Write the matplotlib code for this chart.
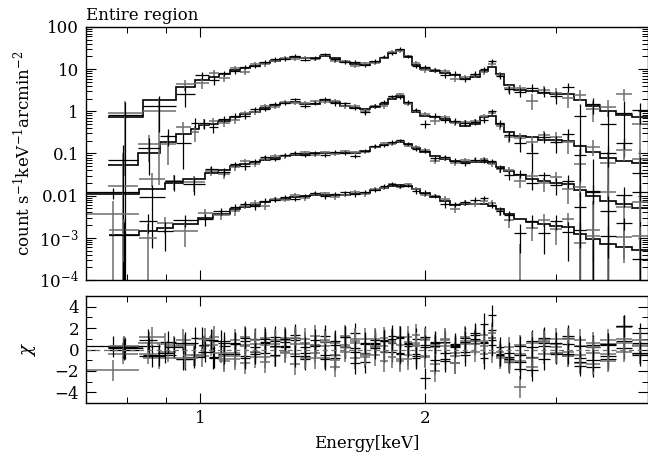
import numpy as np
import matplotlib
matplotlib.use('Agg')
import matplotlib.pyplot as plt
from matplotlib.ticker import FixedLocator, NullFormatter

plt.rcParams['font.family'] = 'DejaVu Serif'
plt.rcParams['mathtext.fontset'] = 'dejavuserif'

# ── Data ─────────────────────────────────────────────────────────────
# bin edges [keV] shared by all four spectra above ~1.1 keV
MID_EDGES = [1.097, 1.131, 1.167, 1.203, 1.241, 1.280, 1.320, 1.361, 1.404, 1.447,
             1.493, 1.539, 1.588, 1.637, 1.689, 1.742, 1.785, 1.830, 1.875, 1.921,
             1.970, 2.032, 2.096, 2.161, 2.229, 2.298, 2.371, 2.429, 2.490, 2.553,
             2.633, 2.732, 2.835, 2.941, 3.052, 3.168, 3.287, 3.431, 3.606, 3.787, 3.979]

# spectrum 1 (top)
S1_LOW = [0.753, 0.839, 0.929, 0.985, 1.028, 1.060]
S1_MODEL = [0.73, 1.83, 3.8, 5.6, 6.5, 7.6,
            9.5, 10.4, 12.2, 14.0, 15.6, 17.0, 19.4, 17.9, 17.9, 20.0, 18.4, 14.8, 12.9, 12.6,
            14.8, 18.4, 24.1, 28.5, 19.4, 12.6, 10.1, 9.1, 8.1, 7.3, 5.9, 6.5, 9.1, 11.3,
            7.7, 4.2, 3.2, 3.0, 2.7, 2.6, 2.6, 1.85, 1.34, 1.01, 0.82, 0.73]
S1_RELERR = [1.2, 0.55, 0.35, 0.25, 0.2, 0.16,
             0.14, 0.13, 0.12, 0.11, 0.10, 0.10, 0.09, 0.09, 0.09, 0.09, 0.09, 0.10, 0.10, 0.10,
             0.10, 0.09, 0.08, 0.07, 0.08, 0.10, 0.11, 0.12, 0.13, 0.14, 0.15, 0.15, 0.13, 0.12,
             0.15, 0.18, 0.22, 0.25, 0.28, 0.30, 0.33, 0.38, 0.45, 0.55, 1.0, 0.75]
S1_CHI_K = [0.1, -0.5, -0.9, 1.1, -0.7, 0.3,
            -0.4, 0.8, -0.2, 0.6, 1.2, 0.3, 0.9, -0.6, 0.4, 1.3, -0.8, 0.2, 1.5, -0.3,
            0.5, 0.8, -0.2, 1.1, 0.6, -0.4, 1.2, 0.3, -0.9, 0.5, -0.2, 1.4, 0.7, 3.2,
            -0.6, -1.2, -0.5, 0.8, 0.3, -0.4, 1.3, -1.5, 0.2, -0.9, 0.1, 0.6]
S1_CHI_G = [0.2, -0.8, 0.4, -0.6, 1.2, -1.1,
            0.9, -1.3, 0.5, -0.7, 0.2, 1.1, -1.4, 0.6, -0.3, 0.9, -1.6, 0.4, -0.8, 1.0,
            -0.5, 0.3, 0.9, -1.1, 0.7, 1.4, -0.6, 0.2, 1.0, -1.3, 0.6, 0.8, -0.4, 1.5,
            -0.2, -0.9, 0.4, -1.6, 0.7, 0.2, -0.6, 0.9, -0.3, 0.5, 2.1, -0.4]

# spectrum 2
S2_LOW = [0.753, 0.826, 0.884, 0.929, 0.973, 0.997, 1.028, 1.057]
S2_MODEL = [0.052, 0.103, 0.187, 0.295, 0.39, 0.47, 0.51, 0.59,
            0.73, 0.86, 0.99, 1.20, 1.39, 1.54, 1.66, 1.50, 1.50, 1.81, 1.64, 1.34, 1.19, 1.11,
            1.27, 1.50, 2.0, 2.3, 1.60, 0.96, 0.78, 0.72, 0.66, 0.56, 0.45, 0.51, 0.73, 0.79,
            0.50, 0.32, 0.26, 0.24, 0.21, 0.206, 0.20, 0.15, 0.109, 0.080, 0.068, 0.059]
S2_RELERR = [1.7, 1.0, 0.6, 0.45, 0.35, 0.28, 0.22, 0.18,
             0.16, 0.15, 0.14, 0.13, 0.12, 0.12, 0.11, 0.11, 0.11, 0.11, 0.11, 0.12, 0.12, 0.12,
             0.12, 0.11, 0.10, 0.09, 0.10, 0.12, 0.13, 0.14, 0.15, 0.16, 0.18, 0.18, 0.16, 0.15,
             0.18, 0.22, 0.26, 0.30, 0.34, 0.38, 0.42, 0.48, 0.55, 0.65, 0.75, 0.85]
S2_CHI_K = [0.2, 0.3, 0.7, -0.9, 1.1, 0.4, -0.8, 0.6,
            0.5, -0.6, 1.0, -0.3, 0.8, 0.2, 1.4, -0.9, 0.3, 0.7, -0.5, 1.2, 0.1, -1.2,
            0.6, 0.9, 1.3, -0.4, 0.5, 1.0, -2.7, 0.7, -0.3, 0.4, 1.1, 0.6, -0.8, 1.8,
            0.2, -0.7, -1.2, -1.9, 0.6, -0.3, 1.1, -0.8, -1.6, 0.4, 2.2, -0.5]
S2_CHI_G = [-0.4, 0.6, -0.2, 0.9, -0.5, 0.3, 0.8, -0.6,
            -0.9, 0.4, -0.2, 1.1, -0.6, 0.9, -0.4, 0.5, 1.3, -0.8, 0.6, -0.2, 1.0, -0.7,
            0.3, -1.1, 0.7, 1.2, -0.5, 0.4, 0.9, -1.4, 0.6, -0.3, 1.2, 0.8, 0.3, 1.1,
            -0.6, -1.0, -0.4, -0.8, 0.9, 0.5, -0.2, -1.3, 0.6, -0.4, 1.0, 0.3]

# spectrum 3
S3_LOW = [0.704, 0.829, 0.898, 0.949, 1.016, 1.057]
S3_MODEL = [0.0108, 0.0147, 0.020, 0.0253, 0.0345, 0.040,
            0.0506, 0.0564, 0.063, 0.072, 0.080, 0.087, 0.092, 0.097, 0.100, 0.103, 0.103,
            0.100, 0.100, 0.112, 0.139, 0.159, 0.178, 0.187, 0.168, 0.135, 0.109, 0.087,
            0.074, 0.066, 0.063, 0.063, 0.063, 0.060, 0.048, 0.0385, 0.031, 0.0253, 0.0223,
            0.0205, 0.0189, 0.0136, 0.0098, 0.0075, 0.0064, 0.0052]
S3_RELERR = [0.34, 0.6, 0.45, 0.35, 0.25, 0.2,
             0.17, 0.15, 0.14, 0.13, 0.12, 0.11, 0.11, 0.10, 0.10, 0.10, 0.10, 0.10, 0.10, 0.10,
             0.10, 0.09, 0.09, 0.09, 0.09, 0.10, 0.11, 0.12, 0.13, 0.14, 0.14, 0.14, 0.14, 0.14,
             0.16, 0.2, 0.24, 0.28, 0.32, 0.38, 0.42, 0.5, 0.6, 0.7, 0.8, 0.9]
S3_CHI_K = [0.3, -0.6, 0.2, -0.7, 0.9, -0.4,
            0.6, -0.8, 0.2, 1.0, -0.5, 0.7, 1.1, -0.3, 0.4, -0.9, 0.8, 0.2, -1.3, 0.5,
            0.9, -0.2, 0.6, 1.2, 0.3, -0.6, 0.4, -1.0, 0.7, 0.2, -0.5, 1.0, 0.6, 0.9,
            -0.4, -0.9, 0.3, -0.7, 1.1, -0.3, 0.5, -1.2, 0.4, -0.6, 0.8, 1.5]
S3_CHI_G = [-1.95, 1.15, 0.3, -0.5, 0.4, -0.9,
            -0.3, 1.2, -0.7, 0.4, 0.9, -0.2, 0.5, 1.0, -0.8, 0.3, -0.5, 1.3, 0.6, -0.4,
            0.2, 1.1, -0.7, 0.4, -0.9, 0.6, 1.0, -2.0, 0.3, -0.6, 0.8, 0.5, 1.4, -0.3,
            -0.8, 0.2, -1.1, 0.6, -0.4, 1.0, -0.6, 0.3, -1.4, 0.9, -0.2, 0.4]

# spectrum 4 (bottom)
S4_LOW = [0.755, 0.829, 0.876, 0.920, 0.994, 1.041]
S4_MODEL = [0.00115, 0.00145, 0.00174, 0.00216, 0.0030, 0.0037,
            0.00483, 0.0054, 0.0060, 0.0069, 0.0077, 0.0083, 0.0091, 0.0096, 0.0104, 0.0104,
            0.0103, 0.0104, 0.0110, 0.0116, 0.0133, 0.0156, 0.0174, 0.0179, 0.0165, 0.0140,
            0.0116, 0.0093, 0.0075, 0.0060, 0.0062, 0.0065, 0.0065, 0.0057, 0.0048, 0.0037,
            0.0028, 0.0024, 0.0021, 0.0019, 0.00176, 0.00123, 0.00094, 0.00073, 0.00062, 0.00052]
S4_RELERR = [1.1, 0.8, 0.55, 0.4, 0.3, 0.22,
             0.2, 0.18, 0.16, 0.15, 0.14, 0.13, 0.12, 0.12, 0.12, 0.12, 0.12, 0.12, 0.12, 0.12,
             0.11, 0.10, 0.10, 0.10, 0.10, 0.11, 0.12, 0.13, 0.15, 0.16, 0.16, 0.16, 0.16, 0.17,
             0.19, 0.24, 0.3, 0.36, 0.42, 0.5, 0.6, 0.75, 0.9, 1.1, 1.2, 1.3]
S4_CHI_K = [0.0, 0.9, -0.3, 0.6, -0.2, 0.8,
            0.5, 1.1, -0.4, 0.7, 0.3, 1.0, -0.6, 0.2, 0.9, -0.5, 0.4, 1.2, -0.2, 0.6,
            0.1, 0.8, 1.0, -0.3, 0.5, -0.8, 0.2, 0.6, -1.1, 0.3, 0.7, 1.5, 2.4, 0.4,
            -0.5, -0.3, -1.8, 0.2, -0.9, 0.6, -0.4, 0.3, -1.0, 0.5, 2.2, -0.3]
S4_CHI_G = [0.3, -0.4, 0.5, -0.8, 1.0, -0.3,
            -0.6, 0.3, 0.9, -1.2, 0.5, -0.3, 1.1, -0.8, 0.4, 0.7, -1.0, 0.2, 0.8, -0.5,
            1.0, -0.2, 0.6, -0.9, 1.2, 0.3, -0.7, 0.4, 0.9, -1.3, 0.5, -0.2, 0.8, 1.1,
            -0.6, -1.2, -3.5, -0.8, 0.7, -0.3, 1.0, -0.5, 0.2, -1.1, 0.6, 0.9]

SPECTRA = [
    (S1_LOW, S1_MODEL, S1_RELERR, S1_CHI_K, S1_CHI_G),
    (S2_LOW, S2_MODEL, S2_RELERR, S2_CHI_K, S2_CHI_G),
    (S3_LOW, S3_MODEL, S3_RELERR, S3_CHI_K, S3_CHI_G),
    (S4_LOW, S4_MODEL, S4_RELERR, S4_CHI_K, S4_CHI_G),
]

YTICKS = [1e-4, 1e-3, 0.01, 0.1, 1, 10, 100]
YTICK_LABELS = ['10$^{-4}$', '10$^{-3}$', '0.01', '0.1', '1', '10', '100']

BLACK = '#000000'
GRAY = '#6e6e6e'
FS = 12

# ── Figure ───────────────────────────────────────────────────────────
fig = plt.figure(figsize=(6.48, 4.59), dpi=100)
ax = fig.add_axes([0.1327, 0.390, 0.8673, 0.5512])
axr = fig.add_axes([0.1327, 0.122, 0.8673, 0.2331], sharex=ax)

for low, model, relerr, chi_k, chi_g in SPECTRA:
    edges = np.array(low + MID_EDGES)
    lo, hi = edges[:-1], edges[1:]
    cen = np.sqrt(lo * hi)
    xerr = [cen - lo, hi - cen]
    model = np.array(model)
    err = model * np.array(relerr)
    for chi, col, lw in ((chi_g, GRAY, 1.1), (chi_k, BLACK, 0.9)):
        chi = np.array(chi)
        data = model + chi * err
        ax.errorbar(cen, data, xerr=xerr, yerr=err, fmt='none', ecolor=col,
                    elinewidth=lw, capsize=0)
        axr.errorbar(cen, chi, xerr=xerr, yerr=1.0, fmt='none', ecolor=col,
                     elinewidth=lw, capsize=0)
    ax.stairs(model, edges, baseline=None, color=BLACK, lw=1.2)

ax.set_xscale('log')
ax.set_yscale('log')
ax.set_xlim(0.704, 3.98)
ax.set_ylim(1e-4, 100)
ax.set_yticks(YTICKS)
ax.set_yticklabels(YTICK_LABELS)
ax.set_ylabel('count s$^{-1}$keV$^{-1}$arcmin$^{-2}$', fontsize=FS, labelpad=4)
ax.text(0.0, 1.012, 'Entire region', transform=ax.transAxes, fontsize=FS,
        ha='left', va='bottom')

axr.axhline(0, color=GRAY, lw=0.9, ls=(0, (4, 3)))
axr.set_ylim(-5, 5)
axr.set_yticks([-4, -2, 0, 2, 4])
axr.yaxis.set_minor_locator(FixedLocator([-5, -3, -1, 1, 3, 5]))
axr.set_ylabel('$\\chi$', fontsize=FS + 1, labelpad=12)
axr.set_xlabel('Energy[keV]', fontsize=FS, labelpad=6)

axr.xaxis.set_major_locator(FixedLocator([1, 2]))
axr.xaxis.set_minor_locator(FixedLocator([0.8, 0.9, 3]))
axr.set_xticklabels(['1', '2'])
axr.xaxis.set_minor_formatter(NullFormatter())
ax.tick_params(axis='x', which='both', labelbottom=False)

for a in (ax, axr):
    a.tick_params(which='both', direction='in', top=True, right=True, labelsize=FS, pad=5)
    a.tick_params(which='major', length=7, width=0.8)
    a.tick_params(which='minor', length=4, width=0.7)
    for s in a.spines.values():
        s.set_linewidth(1.0)

fig.savefig('out.png', dpi=100)
